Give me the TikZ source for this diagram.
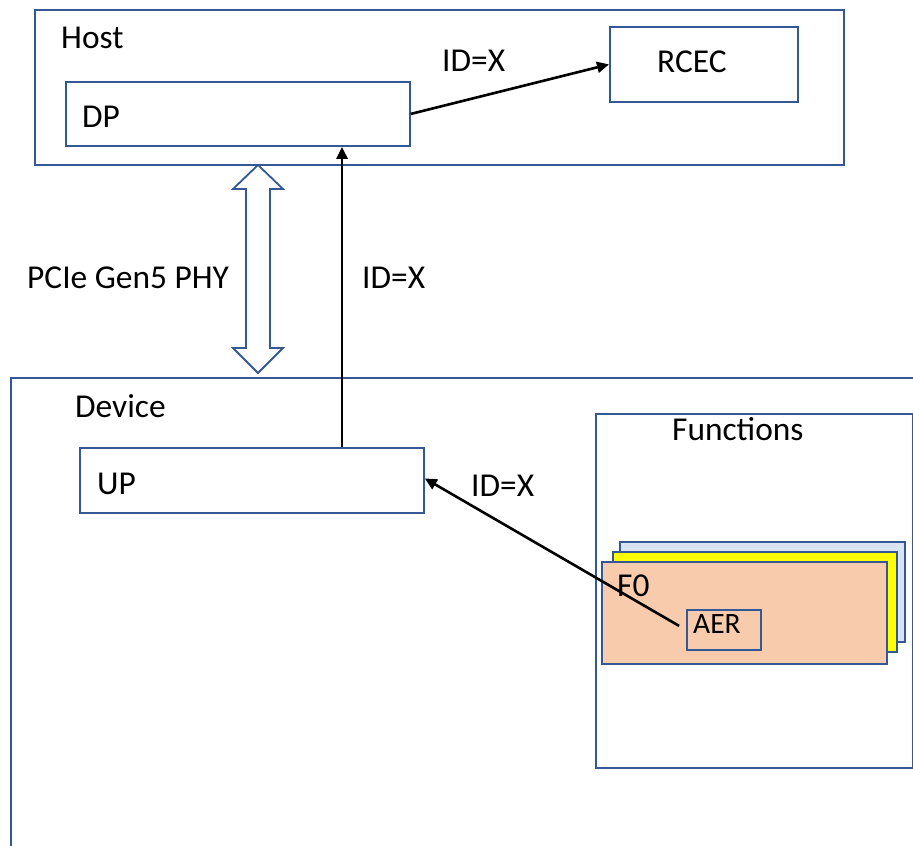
\documentclass[tikz,border=0pt]{standalone}
\usepackage{fontspec}
\setmainfont{Carlito}
\usetikzlibrary{arrows.meta,calc}
\definecolor{bord}{RGB}{52,88,150}
\definecolor{lblue}{RGB}{218,227,243}
\definecolor{peach}{RGB}{247,203,172}
\definecolor{yel}{RGB}{255,255,0}
\begin{document}
\begin{tikzpicture}[x=1pt,y=-1pt,
  box/.style={draw=bord,line width=1.8pt,anchor=north west,inner sep=0pt,rectangle},
  lbl/.style={anchor=base west,inner sep=0pt,font=\fontsize{33.4}{38}\selectfont},
  slbl/.style={anchor=base west,inner sep=0pt,font=\fontsize{29.5}{34}\selectfont},
  arr/.style={line width=2.6pt,-{Triangle[length=12pt,width=11pt]}}]
\path[use as bounding box,clip] (0,0) rectangle (913,846);
\fill[white] (0,0) rectangle (913,846);
% Host
\node[box,minimum width=809pt,minimum height=155pt] (host) at (34,9) {};
\node[lbl] (hostl) at (61,48) {Host};
\node[box,minimum width=344pt,minimum height=64pt] (dp) at (65,81) {};
\node[lbl] (dpl) at (82,127) {DP};
\node[box,minimum width=188pt,minimum height=75pt] (rcec) at (609,26) {};
\node[lbl] (rcecl) at (657,72) {RCEC};
\node[lbl] (id1) at (442,71) {ID=X};
% Device
\node[box,minimum width=960pt,minimum height=500pt] (dev) at (10,377) {};
\node[lbl] (devl) at (75,417) {Device};
\node[box,minimum width=344pt,minimum height=65pt] (up) at (79,447) {};
\node[lbl] (upl) at (97,494) {UP};
\node[lbl] (id3) at (471,496) {ID=X};
% Functions
\node[box,minimum width=317pt,minimum height=354pt] (fun) at (595,413) {};
\node[lbl] (funl) at (672,440) {Functions};
\node[box,fill=lblue,minimum width=285pt,minimum height=100pt] (f2) at (619,541) {};
\node[box,fill=yel,minimum width=284pt,minimum height=100pt] (f1) at (612,551) {};
\node[box,fill=peach,minimum width=285pt,minimum height=102pt] (f0) at (601,561) {};
\node[lbl] (f0l) at (617,596) {F0};
\node[box,minimum width=74pt,minimum height=40pt] (aer) at (686,609) {};
\node[slbl] (aerl) at (693,633) {AER};
% PCIe double arrow
\draw[draw=bord,line width=1.8pt,fill=white] (258,165) -- (233,189) -- (246,189) -- (246,348) -- (233,348) -- (258,373) -- (283,348) -- (270,348) -- (270,189) -- (283,189) -- cycle;
\node[lbl] (pcie) at (27,288) {PCIe Gen5 PHY};
\node[lbl] (id2) at (362,288) {ID=X};
% connectors
\coordinate (vx) at (342,0);
\draw[arr] (dp.east) -- (rcec.west);
\draw[arr] (up.north -| vx) -- (dp.south -| vx);
\draw[arr,shorten <=8pt] (aer.west) -- ([yshift=2pt]up.east);
\end{tikzpicture}
\end{document}
